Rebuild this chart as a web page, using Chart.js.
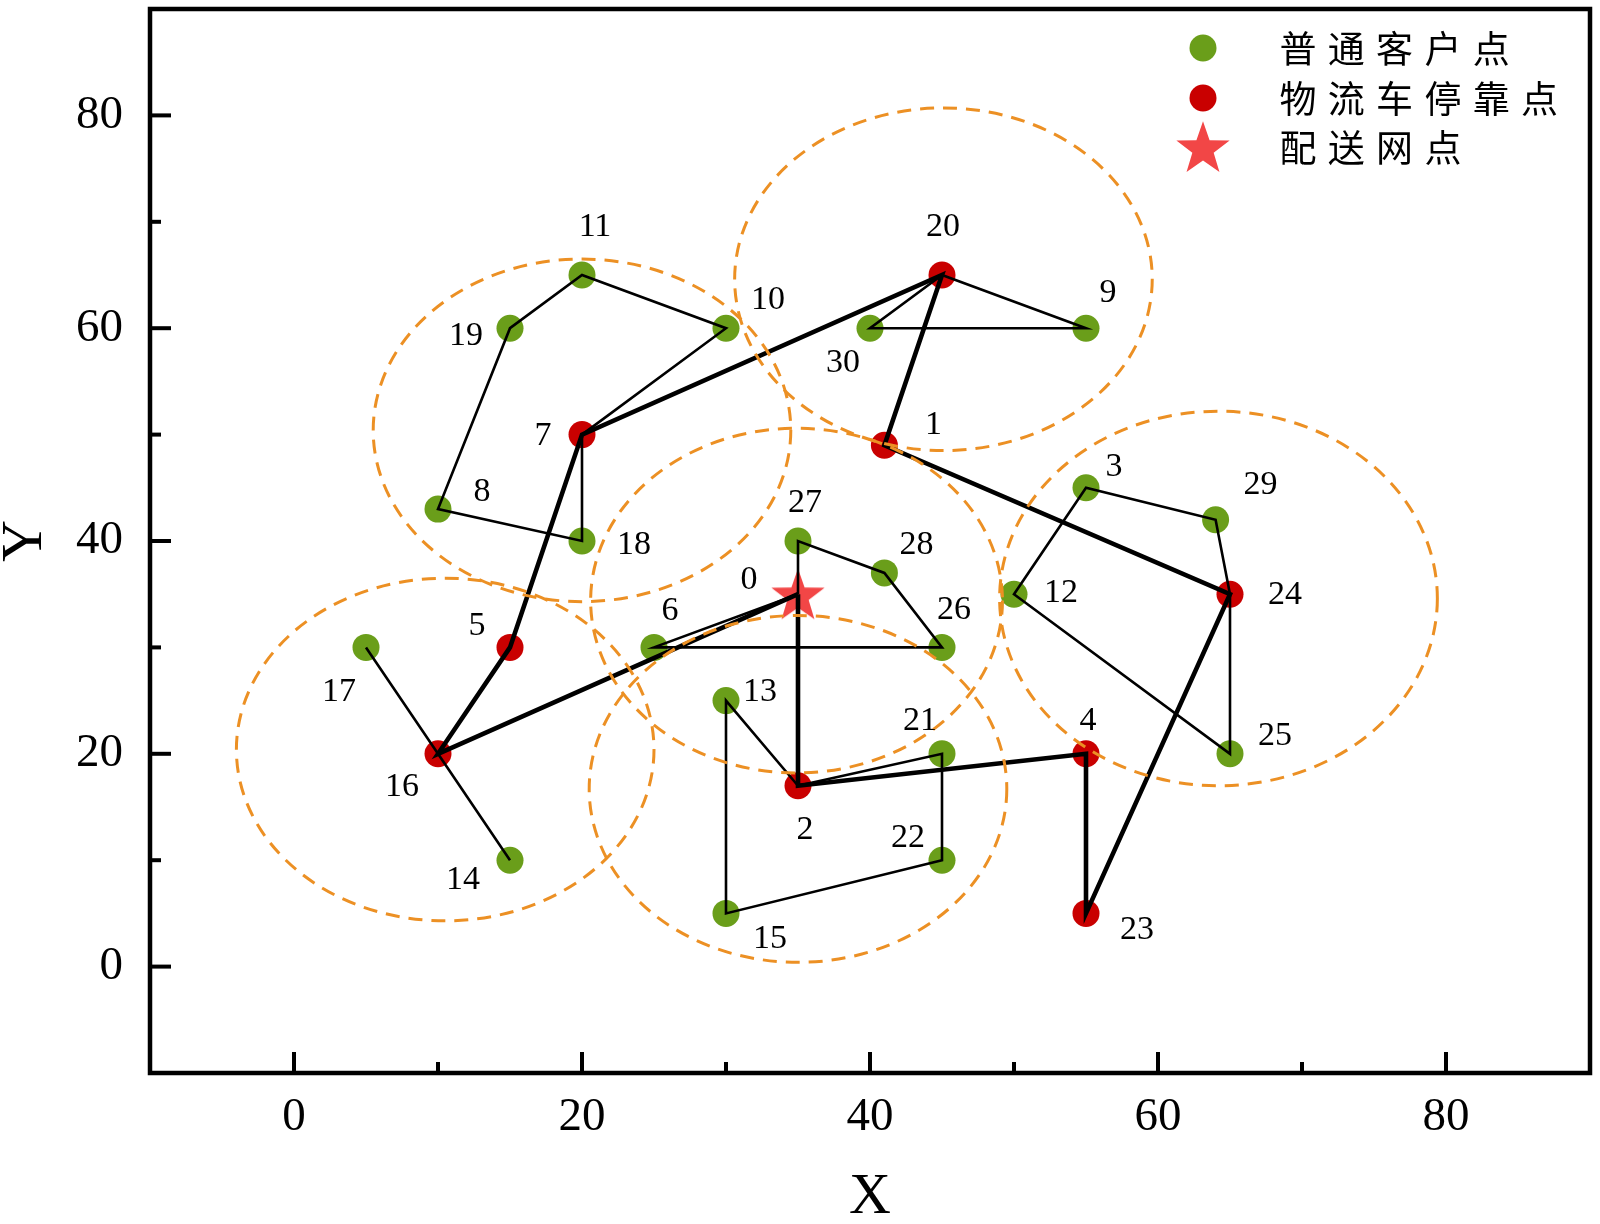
<!DOCTYPE html>
<html><head><meta charset="utf-8">
<script src="https://cdn.jsdelivr.net/npm/chart.js@4.4.1/dist/chart.umd.min.js"></script>
<style>html,body{margin:0;padding:0;background:#fff;}canvas{display:block;}</style>
</head><body>
<canvas id="c" width="1600" height="1224"></canvas>
<script>
// ---------- data ----------
const pointX = [35,41,35,55,55,15,25,20,10,55,30,20,50,30,15,30,10,5,20,15,45,45,45,55,65,65,45,35,41,64,40];
const pointY = [35,49,17,45,20,30,30,50,43,60,60,65,35,25,10,5,20,30,40,60,65,20,10,5,35,20,30,40,37,42,60];
const depotIds = [0];
const stopIds = [1,2,4,5,7,16,20,23,24];
const customerIds = [3,6,8,9,10,11,12,13,14,15,17,18,19,21,22,25,26,27,28,29,30];
const clusterRoutes = [
  [7,10,11,19,8,18,7],
  [20,30,9,20],
  [0,27,28,26,6,0],
  [24,29,3,12,25,24],
  [17,16,14],
  [2,13,15,22,21,2]
];
const vehicleRoute = [0,2,4,23,24,1,20,7,5,16,0];
const circleCX = [20, 45.1, 34.9, 64.2, 10.5, 35.0];
const circleCY = [50.4, 64.6, 34.4, 34.6, 20.4, 16.7];
const circleRX = [14.5, 14.5, 14.3, 15.2, 14.5, 14.5];
const circleRY = [16.1, 16.1, 16.2, 17.6, 16.1, 16.3];
const xTickLabels = [0,20,40,60,80];
const yTickLabels = [0,20,40,60,80];
const xMinorTicks = [10,30,50,70];
const yMinorTicks = [10,30,50,70];
const legendLabels = ['普通客户点','物流车停靠点','配送网点'];

// ---------- styling (pixel offsets of the number labels) ----------
const labelDX = [-49,49,7,28,2,-33,16,-39,44,22,42,13,47,34,-47,44,-36,-27,52,-44,1,-22,-34,51,55,45,12,7,32,45,-27];
const labelDY = [-14,-20,44,-21,-33,-21,-36,1,-17,-35,-28,-48,-1,-9,20,26,33,45,4,8,-48,-33,-22,17,1,-18,-37,-38,-28,-35,35];

const GREEN = '#6a9e1a', RED = '#c90000', STAR = '#f24646', ORANGE = 'rgb(236,144,36)';
const SERIF = '"Liberation Serif", "Times New Roman", serif';

function makeStar(size){
  const cv = document.createElement('canvas');
  cv.width = size; cv.height = size;
  const g = cv.getContext('2d');
  const cx = size/2, cy = size/2 + size*0.04, R = size*0.5, r = size*0.2;
  g.beginPath();
  for (let i=0;i<10;i++){
    const a = -Math.PI/2 + i*Math.PI/5;
    const rr = i%2===0 ? R : r;
    const px = cx + rr*Math.cos(a), py = cy + rr*Math.sin(a);
    if (i===0) g.moveTo(px,py); else g.lineTo(px,py);
  }
  g.closePath();
  g.fillStyle = STAR; g.fill();
  return cv;
}
const starImg = makeStar(56);

const toPts = ids => ids.map(i => ({x: pointX[i], y: pointY[i]}));

const datasets = [];
clusterRoutes.forEach(r => datasets.push({
  type:'scatter', data: toPts(r), showLine:true, borderColor:'#000', borderWidth:2.6,
  pointRadius:0, tension:0, order:0, fill:false
}));
datasets.push({type:'scatter', data: toPts(vehicleRoute), showLine:true, borderColor:'#000', borderWidth:4.6,
  pointRadius:0, tension:0, order:0, fill:false});
datasets.push({type:'scatter', data: toPts(customerIds), pointRadius:13.5, pointStyle:'circle',
  backgroundColor:GREEN, borderWidth:0, order:5});
datasets.push({type:'scatter', data: toPts(stopIds), pointRadius:13.5, pointStyle:'circle',
  backgroundColor:RED, borderWidth:0, order:5});
datasets.push({type:'scatter', data: toPts(depotIds), pointStyle:starImg, pointRadius:28, order:5});

const circlesPlugin = {
  id:'circles',
  afterDatasetsDraw(chart){
    const {ctx, chartArea:a, scales:{x,y}} = chart;
    ctx.save();
    ctx.beginPath(); ctx.rect(a.left,a.top,a.right-a.left,a.bottom-a.top); ctx.clip();
    ctx.strokeStyle = ORANGE; ctx.lineWidth = 3; ctx.setLineDash([14,9]);
    for (let i=0;i<circleCX.length;i++){
      const px = x.getPixelForValue(circleCX[i]), py = y.getPixelForValue(circleCY[i]);
      const rx = Math.abs(x.getPixelForValue(circleCX[i]+circleRX[i]) - px);
      const ry = Math.abs(y.getPixelForValue(circleCY[i]+circleRY[i]) - py);
      ctx.beginPath(); ctx.ellipse(px,py,rx,ry,0,0,Math.PI*2); ctx.stroke();
    }
    ctx.restore();
  }
};
const labelsPlugin = {
  id:'ptlabels',
  afterDatasetsDraw(chart){
    const {ctx, scales:{x,y}} = chart;
    ctx.save();
    ctx.fillStyle='#000'; ctx.font = '34px ' + SERIF;
    ctx.textAlign='center'; ctx.textBaseline='middle';
    for (let i=0;i<pointX.length;i++){
      ctx.fillText(String(i), x.getPixelForValue(pointX[i]) + labelDX[i], y.getPixelForValue(pointY[i]) + labelDY[i]);
    }
    ctx.restore();
  }
};
const framePlugin = {
  id:'frame',
  afterDraw(chart){
    const {ctx, chartArea:a, scales:{x,y}} = chart;
    ctx.save();
    ctx.strokeStyle='#000'; ctx.lineWidth=4.5; ctx.setLineDash([]);
    ctx.strokeRect(a.left,a.top,a.right-a.left,a.bottom-a.top);
    ctx.lineWidth=4;
    const xt = (v,len) => { const px = x.getPixelForValue(v); ctx.beginPath(); ctx.moveTo(px,a.bottom); ctx.lineTo(px,a.bottom-len); ctx.stroke(); };
    const yt = (v,len) => { const py = y.getPixelForValue(v); ctx.beginPath(); ctx.moveTo(a.left,py); ctx.lineTo(a.left+len,py); ctx.stroke(); };
    x.ticks.forEach(t => xt(t.value, 21));
    xMinorTicks.forEach(v => xt(v, 11));
    y.ticks.forEach(t => yt(t.value, 21));
    yMinorTicks.forEach(v => yt(v, 11));
    ctx.restore();
  }
};
const legendPlugin = {
  id:'mylegend',
  afterDraw(chart){
    const ctx = chart.ctx;
    ctx.save();
    const mx = 1203, ys = [48,98,147], tx = 1283, adv = 48.3;
    ctx.fillStyle=GREEN; ctx.beginPath(); ctx.arc(mx,ys[0],13.5,0,Math.PI*2); ctx.fill();
    ctx.fillStyle=RED; ctx.beginPath(); ctx.arc(mx,ys[1],13.5,0,Math.PI*2); ctx.fill();
    ctx.drawImage(starImg, mx-28, ys[2]-28, 56, 56);
    ctx.fillStyle='#000'; ctx.font = '37px "Noto Sans CJK SC", sans-serif';
    ctx.textAlign='center'; ctx.textBaseline='middle';
    legendLabels.forEach((s,k) => {
      [...s].forEach((ch,j) => ctx.fillText(ch, tx + 15 + j*adv, ys[k]+1));
    });
    ctx.restore();
  }
};

const noPad = s => {
  s.paddingTop = 0; s.paddingBottom = 0; s.paddingLeft = 0; s.paddingRight = 0;
  if (s._margins) { s._margins.top = 0; s._margins.bottom = 0; s._margins.left = 0; s._margins.right = 0; }
  s.getPadding = () => ({left:0, top:0, right:0, bottom:0});
};

new Chart(document.getElementById('c'), {
  type:'scatter',
  data:{datasets},
  options:{
    responsive:false, animation:false, devicePixelRatio:1,
    layout:{autoPadding:false, padding:{top:9,right:10,left:0,bottom:0}},
    plugins:{legend:{display:false}, tooltip:{enabled:false}},
    scales:{
      x:{type:'linear', min:-10, max:90,
        grid:{display:false, drawTicks:false}, border:{display:false},
        ticks:{autoSkip:false, maxRotation:0, padding:16, color:'#000',
          font:{family:SERIF, size:47}, callback:v => String(v)},
        afterBuildTicks(s){ s.ticks = xTickLabels.map(v => ({value:v})); },
        title:{display:true, text:'X', color:'#000', font:{family:SERIF, size:58, lineHeight:0.9}, padding:0},
        afterFit(s){ s.height = 151; noPad(s); }
      },
      y:{type:'linear', min:-10, max:90,
        grid:{display:false, drawTicks:false}, border:{display:false},
        ticks:{autoSkip:false, padding:27, color:'#000',
          font:{family:SERIF, size:47}, callback:v => String(v)},
        afterBuildTicks(s){ s.ticks = yTickLabels.map(v => ({value:v})); },
        title:{display:true, text:'Y', color:'#000', font:{family:SERIF, size:58, lineHeight:0.9}, padding:0},
        afterFit(s){ s.width = 150; noPad(s); }
      }
    }
  },
  plugins:[circlesPlugin, labelsPlugin, framePlugin, legendPlugin]
});
</script>
</body></html>
